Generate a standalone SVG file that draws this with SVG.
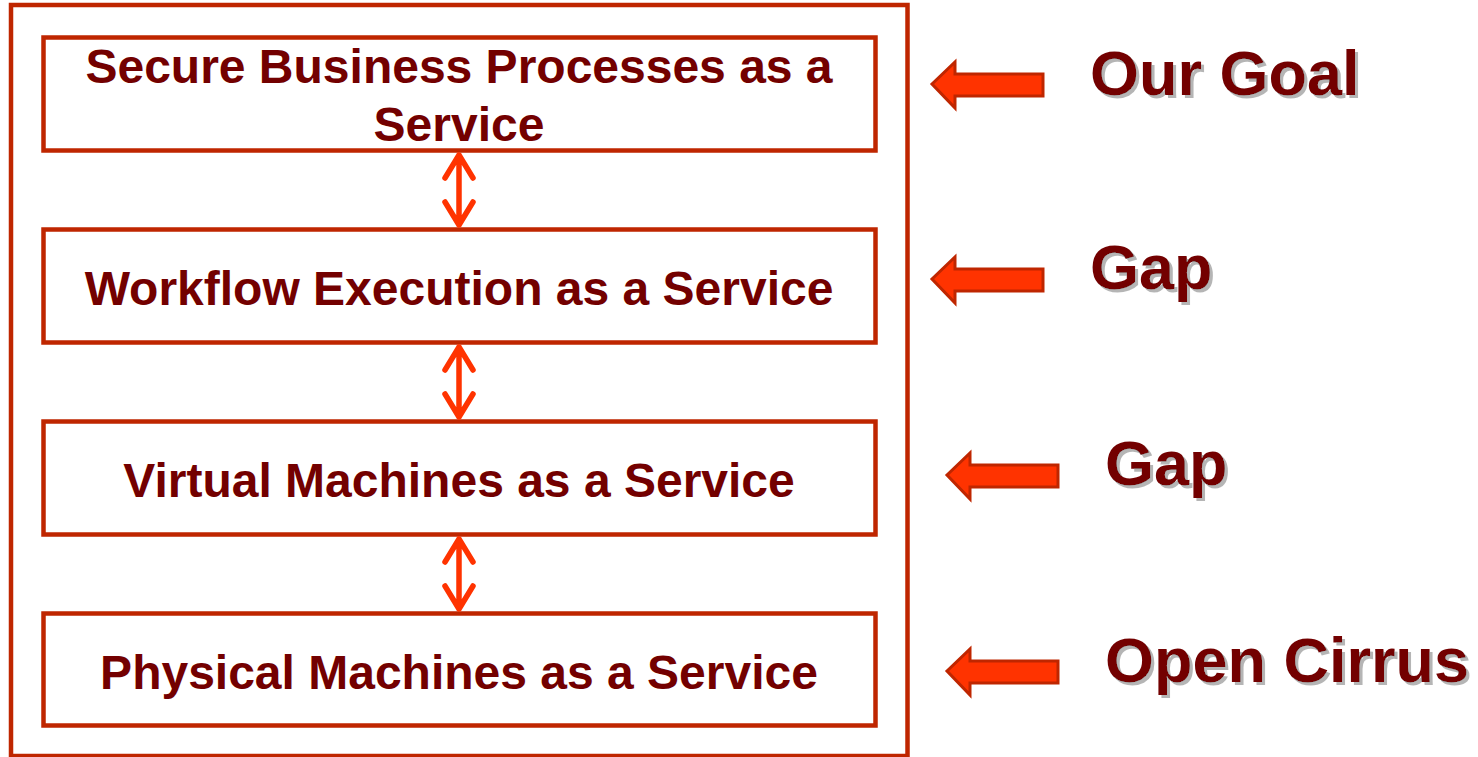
<svg xmlns="http://www.w3.org/2000/svg" width="1478" height="757" viewBox="0 0 1478 757">
  <defs>
    <style>
      .frame { fill: none; stroke: #BF2600; stroke-width: 4.5; }
      .box { fill: #FFFFFF; stroke: #BF2600; stroke-width: 4.5; }
      .lbl { font-family: "Liberation Sans", Arial, sans-serif; font-weight: bold; fill: #730000; text-anchor: middle; font-size: 48px; }
      .side { font-family: "Liberation Sans", Arial, sans-serif; font-weight: bold; font-size: 63px; fill: #730000; filter: url(#shadow); }
      .link { fill: none; stroke: #FF3300; stroke-width: 5.5; stroke-linecap: round; stroke-linejoin: round; }
      .pointer { fill: #FF3300; stroke: #BF2600; stroke-width: 3; stroke-linejoin: miter; }
    </style>
    <!-- soft grey offset shadow behind the side captions -->
    <filter id="shadow" x="-5%" y="-10%" width="115%" height="130%">
      <feOffset in="SourceAlpha" dx="3" dy="3" result="off"/>
      <feFlood flood-color="#B5B5B5"/>
      <feComposite in2="off" operator="in" result="shade"/>
      <feMerge>
        <feMergeNode in="shade"/>
        <feMergeNode in="SourceGraphic"/>
      </feMerge>
    </filter>
    <!-- block arrow pointing left, tip at origin -->
    <polygon id="leftArrow" class="pointer" points="0,0 23,-22 23,-10 111,-10 111,12 23,12 23,24"/>
  </defs>

  <rect class="frame" x="11" y="5" width="896.5" height="751"/>

  <g id="node-business">
    <rect class="box" x="43.5" y="37.5" width="832" height="113"/>
    <text class="lbl" x="459" y="83">Secure Business Processes as a</text>
    <text class="lbl" x="459" y="141">Service</text>
  </g>
  <g id="node-workflow">
    <rect class="box" x="43.5" y="229.5" width="832" height="113"/>
    <text class="lbl" x="459" y="305">Workflow Execution as a Service</text>
  </g>
  <g id="node-vm">
    <rect class="box" x="43.5" y="421.5" width="832" height="113"/>
    <text class="lbl" x="459" y="497">Virtual Machines as a Service</text>
  </g>
  <g id="node-physical">
    <rect class="box" x="43.5" y="613.5" width="832" height="112"/>
    <text class="lbl" x="459" y="689">Physical Machines as a Service</text>
  </g>

  <g id="connectors">
    <path class="link" d="M459,155 V225 M445,178 L459,155 L473,178 M445,202 L459,225 L473,202"/>
    <path class="link" d="M459,347 V417 M445,370 L459,347 L473,370 M445,394 L459,417 L473,394"/>
    <path class="link" d="M459,539 V609 M445,562 L459,539 L473,562 M445,586 L459,609 L473,586"/>
  </g>

  <g id="pointers">
    <use href="#leftArrow" x="932" y="84"/>
    <use href="#leftArrow" x="932" y="279"/>
    <use href="#leftArrow" x="947" y="475"/>
    <use href="#leftArrow" x="947" y="671"/>
  </g>

  <g id="captions" class="side">
    <text x="1090" y="95">Our Goal</text>
    <text x="1090" y="289">Gap</text>
    <text x="1105" y="485">Gap</text>
    <text x="1105" y="682">Open Cirrus</text>
  </g>
</svg>
